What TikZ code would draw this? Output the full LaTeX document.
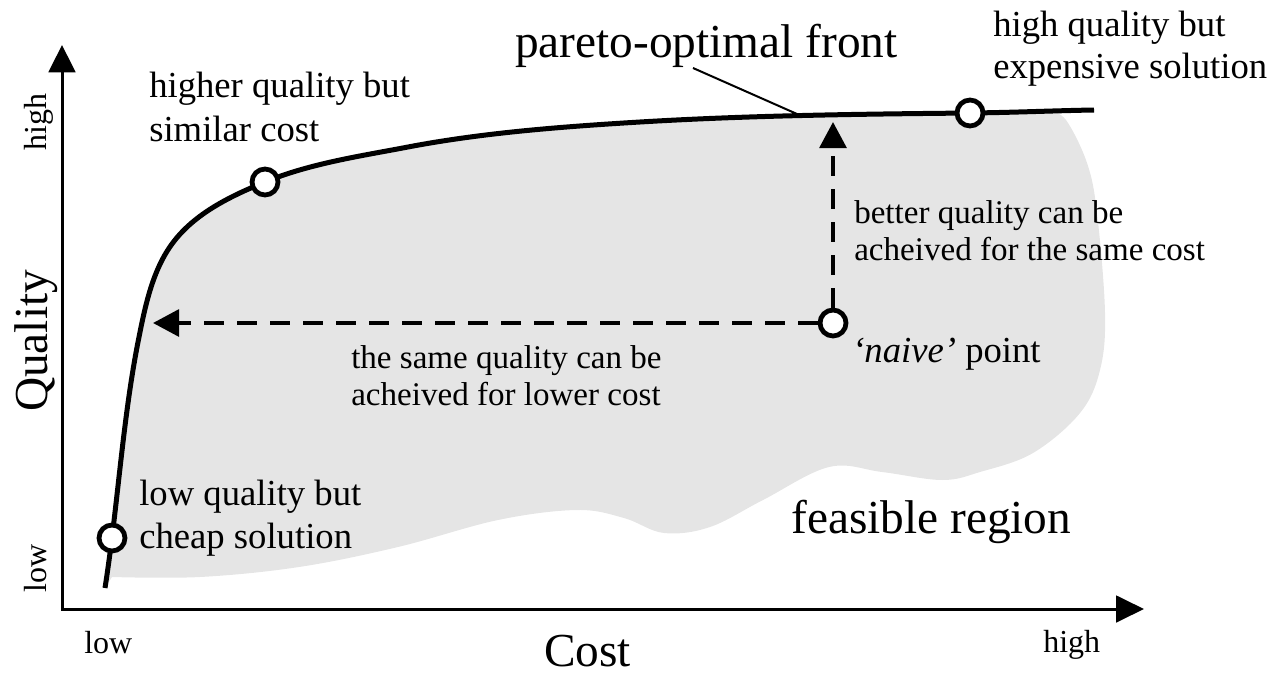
\documentclass[tikz,border=0pt]{standalone}
\usepackage{fontspec}
\setmainfont{Liberation Serif}
\usetikzlibrary{arrows.meta}
\newcommand{\twol}[2]{\begin{tabular}[t]{@{}l@{}}#1\\#2\end{tabular}}
\begin{document}
\begin{tikzpicture}[x=0.75pt,y=-0.75pt,
  axis/.style={line width=2.25pt, line join=miter, {Triangle[length=20.5pt,width=20pt]}-{Triangle[length=21pt,width=20pt]}},
  front/.style={line width=3.75pt, line cap=butt},
  feas/.style={fill=black!10},
  sol/.style={circle, draw, line width=3.6pt, fill=white, minimum size=19.5pt, inner sep=0pt},
  dasharrow/.style={line width=3pt, dash pattern=on 15pt off 9.75pt, -{Triangle[length=19.5pt,width=20pt]}},
  leader/.style={line width=1.5pt},
  big/.style={font=\fontsize{35.5}{40}\selectfont, inner sep=0pt},
  mid/.style={font=\fontsize{27.5}{32.5}\selectfont, inner sep=0pt},
  midb/.style={font=\fontsize{27.5}{31}\selectfont, inner sep=0pt},
  small/.style={font=\fontsize{24.8}{27.75}\selectfont, inner sep=0pt},
  tick/.style={font=\fontsize{24}{28}\selectfont, inner sep=0pt}
]
\useasboundingbox (0,0) rectangle (1281,674);

% feasible region
\fill[feas] (105,588) .. controls (118,505) and (122.5,419) .. (139,337)
  .. controls (145.8,303.2) and (153.4,266.9) .. (175,240)
  .. controls (197.3,212.1) and (232,195.5) .. (265,182)
  .. controls (310.3,163.4) and (359.9,156.2) .. (408,147)
  .. controls (484.3,132.5) and (562.4,126.7) .. (640,122)
  .. controls (750,115.4) and (860,114.1) .. (970,113)
  -- (1050,111.5)
  -- plot[smooth, tension=0.6] coordinates {(1050,111.5) (1066,120) (1087,163) (1097,213) (1105,313) (1100,370) (1080,413) (1033,453) (980,472) (942,480) (882,472) (829,467) (763,500) (710,527) (664,533) (624,518) (577,510) (498,520) (398,547) (299,567) (200,577) (112,577)} -- cycle;

% axes
\coordinate (O) at (62,609);
\coordinate (ytip) at (62,45);
\coordinate (xtip) at (1144,609);
\draw[axis] (ytip) -- (O) -- (xtip);

% pareto front
\draw[front] (105,588) .. controls (118,505) and (122.5,419) .. (139,337)
  .. controls (145.8,303.2) and (153.4,266.9) .. (175,240)
  .. controls (197.3,212.1) and (232,195.5) .. (265,182)
  .. controls (310.3,163.4) and (359.9,156.2) .. (408,147)
  .. controls (484.3,132.5) and (562.4,126.7) .. (640,122)
  .. controls (750,115.4) and (860,114.1) .. (970,113)
  .. controls (1011,112.6) and (1053,110.7) .. (1094,110);

% leader line
\coordinate (ls) at (693,68);
\coordinate (lp) at (797,114);
\draw[leader] (ls) -- (lp);

% solutions
\node[sol] (lowpt) at (112,538) {};
\node[sol] (simpt) at (265,182) {};
\node[sol] (highpt) at (970,113) {};
\coordinate (htip) at (153,323);
\coordinate (vtip) at (833,122);
\node[sol] (naive) at (833,323) {};
\draw[dasharrow] (naive) -- (htip);
\draw[dasharrow] (naive) -- (vtip);

% texts
\node[big, anchor=base west] (tfront) at (515,58) {pareto-optimal front};
\node[big, anchor=base west] (tfeas) at (791,533) {feasible region};
\node[big, anchor=base, rotate=90] (tq) at (47,341) {Quality};
\node[big, anchor=base west, text depth=0pt] (tcost) at (544,666) {Cost};
\node[mid, anchor=base west] (thigher) at (149,98) {\twol{higher quality but}{similar cost}};
\node[midb, anchor=base west] (texp) at (993,37) {\twol{high quality but}{expensive solution}};
\node[mid, anchor=base west] (tlow) at (139,505) {\twol{low quality but}{cheap solution}};
\node[mid, anchor=base west] (tnaive) at (852,362) {\textit{‘naive’} point};
\node[small, anchor=base west] (tbetter) at (854,223) {\twol{better quality can be}{acheived for the same cost}};
\node[small, anchor=base west] (tsame) at (351,368) {\twol{the same quality can be}{acheived for lower cost}};
\node[tick, anchor=base, rotate=90] (yhigh) at (46,122) {high};
\node[tick, anchor=base, rotate=90] (ylow) at (46,568) {low};
\node[tick, anchor=base west] (xlow) at (84,653) {low};
\node[tick, anchor=base west] (xhigh) at (1043,652) {high};
\end{tikzpicture}
\end{document}
